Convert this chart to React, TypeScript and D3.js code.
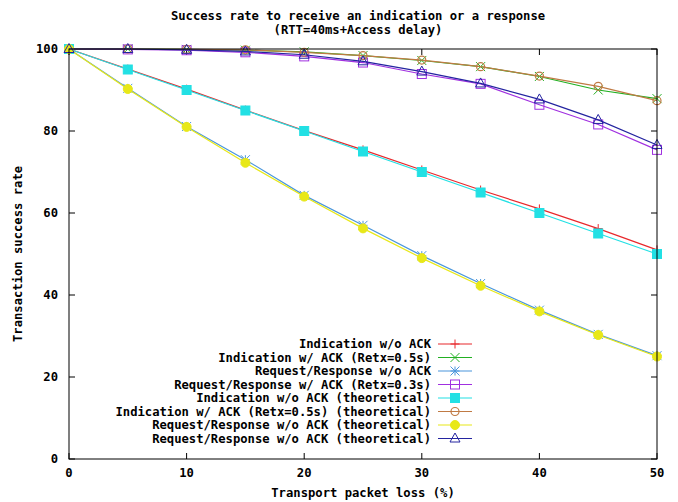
import React from "react";
import * as d3 from "d3";

const lossX = [0, 5, 10, 15, 20, 25, 30, 35, 40, 45, 50];
const indNoAck = [100, 95.1, 90.2, 85.1, 80.1, 75.4, 70.5, 65.6, 61.0, 56.2, 51.0];
const indAck = [100, 100, 99.9, 99.7, 99.3, 98.4, 97.2, 95.7, 93.3, 90.0, 87.9];
const reqNoAck = [100, 90.4, 81.1, 73.0, 64.3, 57.0, 49.6, 42.8, 36.3, 30.4, 25.2];
const reqAck = [100, 99.9, 99.7, 99.2, 98.2, 96.7, 93.9, 91.5, 86.4, 81.6, 75.4];
const indNoAckTh = [100, 95, 90, 85, 80, 75, 70, 65, 60, 55, 50];
const indAckTh = [100, 100, 99.9, 99.8, 99.2, 98.4, 97.3, 95.7, 93.4, 90.9, 87.4];
const reqNoAckTh = [100, 90.25, 81, 72.25, 64, 56.25, 49, 42.25, 36, 30.25, 25];
const reqAckTh = [100, 100, 99.8, 99.4, 98.6, 97.0, 94.5, 91.6, 87.7, 82.7, 76.6];

const seriesNames = [
  "Indication w/o ACK",
  "Indication w/ ACK (Retx=0.5s)",
  "Request/Response w/o ACK",
  "Request/Response w/ ACK (Retx=0.3s)",
  "Indication w/o ACK (theoretical)",
  "Indication w/ ACK (Retx=0.5s) (theoretical)",
  "Request/Response w/o ACK (theoretical)",
  "Request/Response w/o ACK (theoretical)",
];
const seriesValues = [indNoAck, indAck, reqNoAck, reqAck, indNoAckTh, indAckTh, reqNoAckTh, reqAckTh];
const seriesColors = ["#e8282c", "#22b022", "#4a96dc", "#a030e0", "#22e0e4", "#c07a44", "#e8e818", "#2424a0"];
const seriesMarkers = ["plus", "cross", "star", "square", "fsquare", "circle", "fcircle", "triangle"];

const xTicks = [0, 10, 20, 30, 40, 50];
const yTicks = [0, 20, 40, 60, 80, 100];

const W = 678, H = 502;
const M = { left: 69, right: 657, top: 49, bottom: 459 };
const FONT = "'DejaVu Sans Mono', monospace";
const FS = 12.2;

function Marker({ type, x, y, color }: { type: string; x: number; y: number; color: string }) {
  const s = 4.5;
  switch (type) {
    case "plus":
      return <path d={`M${x - s},${y}H${x + s}M${x},${y - s}V${y + s}`} stroke={color} strokeWidth={1} fill="none" />;
    case "cross":
      return <path d={`M${x - s},${y - s}L${x + s},${y + s}M${x - s},${y + s}L${x + s},${y - s}`} stroke={color} strokeWidth={1} fill="none" />;
    case "star":
      return (
        <path
          d={`M${x - s},${y}H${x + s}M${x},${y - s}V${y + s}M${x - s},${y - s}L${x + s},${y + s}M${x - s},${y + s}L${x + s},${y - s}`}
          stroke={color}
          strokeWidth={1}
          fill="none"
        />
      );
    case "square":
      return <rect x={x - s} y={y - s} width={2 * s} height={2 * s} stroke={color} strokeWidth={1} fill="none" />;
    case "fsquare":
      return <rect x={x - s} y={y - s} width={2 * s} height={2 * s} stroke={color} strokeWidth={1} fill={color} />;
    case "circle":
      return <circle cx={x} cy={y} r={s - 0.5} stroke={color} strokeWidth={1.2} fill="none" />;
    case "fcircle":
      return <circle cx={x} cy={y} r={s} stroke={color} strokeWidth={1} fill={color} />;
    case "triangle":
      return <path d={`M${x},${y - s - 1}L${x + s + 0.5},${y + s - 1}L${x - s - 0.5},${y + s - 1}Z`} stroke={color} strokeWidth={1} fill="none" />;
    default:
      return null;
  }
}

export default function App() {
  const x = d3.scaleLinear().domain([0, 50]).range([M.left, M.right]);
  const y = d3.scaleLinear().domain([0, 100]).range([M.bottom, M.top]);
  const line = d3
    .line<number>()
    .x((_, i) => x(lossX[i]))
    .y((d) => y(d));

  const legendRight = 431;
  const sampleX0 = 438;
  const sampleX1 = 472;
  const legendY0 = 344;
  const legendDy = 13.5;

  return (
    <div style={{ position: "absolute", left: 0, top: 0 }}>
      <svg width={W} height={H} style={{ display: "block", background: "#fff" }} fontFamily={FONT} fontWeight="bold">
        <rect width={W} height={H} fill="#fff" />
        {/* title */}
        <text x={358} y={20} textAnchor="middle" fontSize={FS}>
          Success rate to receive an indication or a response
        </text>
        <text x={358} y={34} textAnchor="middle" fontSize={FS}>
          (RTT=40ms+Access delay)
        </text>

        {/* ticks */}
        {xTicks.map((t) => (
          <g key={"xt" + t}>
            <line x1={x(t)} x2={x(t)} y1={M.bottom} y2={M.bottom - 6} stroke="#000" />
            <line x1={x(t)} x2={x(t)} y1={M.top} y2={M.top + 6} stroke="#000" />
            <text x={x(t)} y={477} textAnchor="middle" fontSize={FS}>
              {t}
            </text>
          </g>
        ))}
        {yTicks.map((t) => (
          <g key={"yt" + t}>
            <line x1={M.left} x2={M.left + 6} y1={y(t)} y2={y(t)} stroke="#000" />
            <line x1={M.right} x2={M.right - 6} y1={y(t)} y2={y(t)} stroke="#000" />
            <text x={58} y={y(t) + 4} textAnchor="end" fontSize={FS}>
              {t}
            </text>
          </g>
        ))}

        {/* axis labels */}
        <text x={363} y={497} textAnchor="middle" fontSize={FS}>
          Transport packet loss (%)
        </text>
        <text transform={`translate(22,254) rotate(-90)`} textAnchor="middle" fontSize={FS}>
          Transaction success rate
        </text>

        {/* series */}
        {seriesValues.map((vals, si) => (
          <g key={"s" + si}>
            <path d={line(vals) || ""} fill="none" stroke={seriesColors[si]} strokeWidth={1.2} />
            {vals.map((v, i) => (
              <Marker key={i} type={seriesMarkers[si]} x={x(lossX[i])} y={y(v)} color={seriesColors[si]} />
            ))}
          </g>
        ))}

        {/* legend */}
        {seriesNames.map((name, si) => {
          const ly = legendY0 + si * legendDy;
          return (
            <g key={"l" + si}>
              <text x={legendRight} y={ly + 4} textAnchor="end" fontSize={FS}>
                {name}
              </text>
              <line x1={sampleX0} x2={sampleX1} y1={ly} y2={ly} stroke={seriesColors[si]} strokeWidth={1.2} />
              <Marker type={seriesMarkers[si]} x={(sampleX0 + sampleX1) / 2} y={ly} color={seriesColors[si]} />
            </g>
          );
        })}

        {/* border */}
        <rect x={M.left} y={M.top} width={M.right - M.left} height={M.bottom - M.top} fill="none" stroke="#000" strokeWidth={1} />
      </svg>
    </div>
  );
}
